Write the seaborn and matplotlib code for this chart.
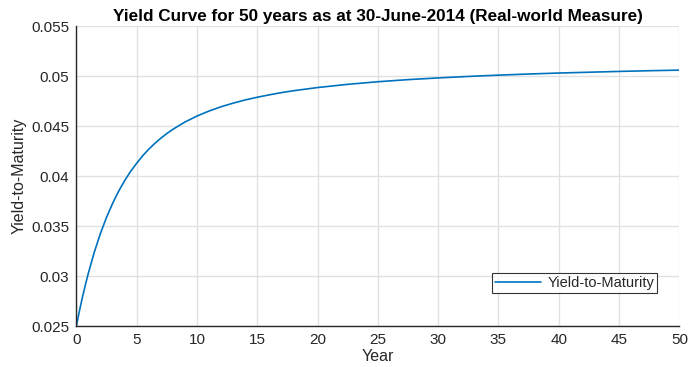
import matplotlib
matplotlib.use("Agg")
import matplotlib.pyplot as plt
import seaborn as sns
import pandas as pd

# Data
years = [0, 0.25, 0.5, 0.75, 1, 1.5, 2, 2.5, 3, 3.5, 4, 4.5, 5, 5.5, 6, 6.5, 7, 7.5, 8, 9,
         10, 11, 12, 13, 14, 15, 16, 17, 18, 19, 20, 22.5, 25, 27.5, 30, 32.5, 35, 37.5,
         40, 42.5, 45, 47.5, 50]
ytm = [0.02500, 0.02649, 0.02786, 0.02913, 0.03032, 0.03244, 0.03428, 0.03587, 0.03726,
       0.03848, 0.03954, 0.04048, 0.04129, 0.04204, 0.04269, 0.04327, 0.04379, 0.04426,
       0.04468, 0.04541, 0.04601, 0.04651, 0.04694, 0.04730, 0.04762, 0.04789, 0.04813,
       0.04835, 0.04854, 0.04870, 0.04886, 0.04918, 0.04944, 0.04965, 0.04982, 0.04997,
       0.05010, 0.05021, 0.05031, 0.05039, 0.05047, 0.05054, 0.05060]
x_ticks = [0, 5, 10, 15, 20, 25, 30, 35, 40, 45, 50]
y_ticks = [0.025, 0.03, 0.035, 0.04, 0.045, 0.05, 0.055]
y_tick_labels = ["0.025", "0.03", "0.035", "0.04", "0.045", "0.05", "0.055"]
series_name = "Yield-to-Maturity"
title = "Yield Curve for 50 years as at 30-June-2014 (Real-world Measure)"

df = pd.DataFrame({"Year": years, series_name: ytm})

sns.set_style("whitegrid")
plt.rcParams["font.family"] = ["Liberation Sans", "DejaVu Sans"]

fig = plt.figure(figsize=(6.89, 3.67), dpi=100)
ax = fig.add_axes([0.1107, 0.1104, 0.8753, 0.8186])

sns.lineplot(data=df, x="Year", y=series_name, ax=ax, color="#0072BD",
             linewidth=1.2, label=series_name)

ax.set_xlim(0, 50)
ax.set_ylim(0.025, 0.055)
ax.set_xticks(x_ticks)
ax.set_yticks(y_ticks)
ax.set_yticklabels(y_tick_labels)

ax.grid(True, color="#e1e1e1", linewidth=1.0)
ax.set_axisbelow(True)
for side in ["top", "right"]:
    ax.spines[side].set_visible(False)
for side in ["left", "bottom"]:
    ax.spines[side].set_visible(True)
    ax.spines[side].set_color("#262626")
    ax.spines[side].set_linewidth(1.0)

ax.tick_params(axis="both", direction="in", length=4, width=1.0, color="#262626",
               labelsize=11, labelcolor="#262626", pad=5)

ax.set_xlabel("Year", fontsize=11.5, color="#262626", labelpad=1)
ax.set_ylabel(series_name, fontsize=11.5, color="#262626", labelpad=3)
ax.set_title(title, fontsize=12.3, fontweight="bold", color="black", pad=4)

leg = ax.legend(loc="lower right", bbox_to_anchor=(0.963, 0.113), frameon=True,
                fancybox=False, edgecolor="black", fontsize=10.5,
                handlelength=3.2, borderpad=0.2, handletextpad=0.4, borderaxespad=0)
leg.get_frame().set_linewidth(0.8)
for t in leg.get_texts():
    t.set_color("#262626")

fig.savefig("out.png", dpi=100)
